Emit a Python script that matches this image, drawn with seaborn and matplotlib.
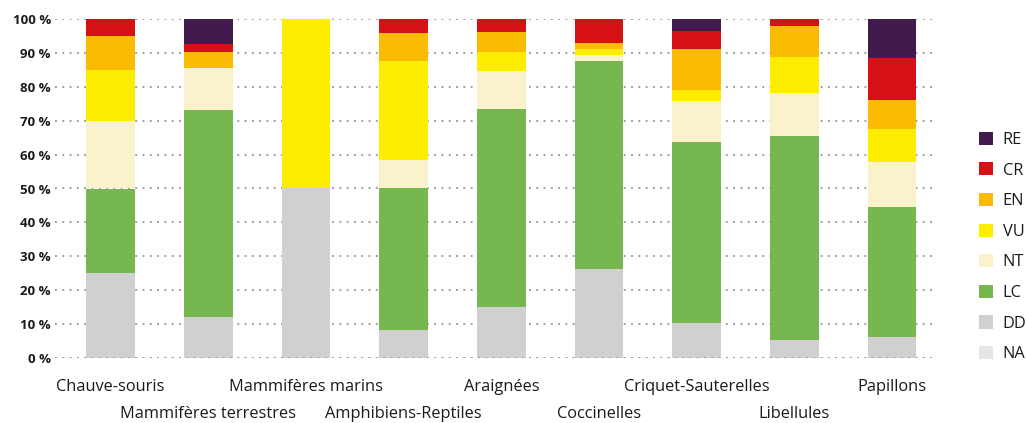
import pandas as pd
import seaborn as sns
import matplotlib.pyplot as plt
from matplotlib.patches import Patch

# groups, in chart order
groups = ["Chauve-souris", "Mammifères terrestres", "Mammifères marins",
          "Amphibiens-Reptiles", "Araignées", "Coccinelles",
          "Criquet-Sauterelles", "Libellules", "Papillons"]

# share of each IUCN status per group (%)
NA = [0, 0, 0, 0, 0, 0, 0, 0, 0]
DD = [25, 12.2, 50, 8.3, 15.1, 26.3, 10.4, 5.4, 6.3]
LC = [25, 61.0, 0, 41.7, 58.4, 61.4, 53.4, 60.1, 38.3]
NT = [20, 12.2, 0, 8.3, 11.2, 1.8, 12.0, 12.7, 13.3]
VU = [15, 0, 50, 29.2, 5.6, 1.7, 3.3, 10.6, 9.7]
EN = [10, 4.9, 0, 8.3, 5.9, 1.8, 12.1, 9.1, 8.5]
CR = [5, 2.4, 0, 4.2, 3.8, 7.0, 5.3, 2.1, 12.4]
RE = [0, 7.3, 0, 0, 0, 0, 3.5, 0, 11.5]

statuses = ["RE", "CR", "EN", "VU", "NT", "LC", "DD", "NA"]
colors = {"RE": "#421a4e", "CR": "#d51116", "EN": "#fbbb00", "VU": "#ffed00",
          "NT": "#faf2cc", "LC": "#76b74f", "DD": "#d0d0d0", "NA": "#e6e6e6"}

values = {"RE": RE, "CR": CR, "EN": EN, "VU": VU, "NT": NT, "LC": LC, "DD": DD, "NA": NA}
rows = []
for st in statuses:
    for g, v in zip(groups, values[st]):
        rows.append({"groupe": g, "statut": st, "pct": v})
df = pd.DataFrame(rows)

sns.set_style("white")
plt.rcParams['font.family'] = ['Open Sans', 'DejaVu Sans']
text_col = "#1a1a1a"
dots = (0, (1, 2.75))

fig = plt.figure(figsize=(10.26, 4.23), dpi=100)
ax = fig.add_axes([55 / 1026, 1 - 358 / 423, (937 - 55) / 1026, (358 - 19) / 423])

# first hue level ends up on top of the stack
sns.histplot(data=df, x="groupe", weights="pct", hue="statut", hue_order=statuses,
             palette=colors, multiple="stack", discrete=True, shrink=0.5,
             alpha=1, linewidth=0, legend=False, ax=ax)

ax.set_xlim(-0.57, 8.46)
ax.set_ylim(0, 100)
ax.set_yticks(range(0, 101, 10))
ax.set_yticklabels([f"{t} %" for t in range(0, 101, 10)], fontweight="bold",
                   fontsize=9.5, color=text_col)
ax.set_axisbelow(True)
ax.yaxis.grid(True, linestyle=dots, linewidth=1.4, color="#a0a0a0")
ax.axhline(0, linestyle=dots, linewidth=1.4, color="#a0a0a0", zorder=5)
ax.set_xlabel("")
ax.set_ylabel("")
sns.despine(ax=ax, left=True, bottom=True)
ax.tick_params(axis="both", length=0)
ax.tick_params(axis="y", pad=3)

ax.set_xticks(range(len(groups)))
ax.set_xticklabels(groups, fontsize=11.8, color=text_col)
for i, tick in enumerate(ax.xaxis.get_major_ticks()):
    tick.set_pad(34.5 if i % 2 else 15)

handles = [Patch(facecolor=colors[s], edgecolor="none", label=s) for s in statuses]
fig.legend(handles=handles, loc="center left", bbox_to_anchor=(979 / 1026, 1 - 247 / 423),
           frameon=False, fontsize=11.8, handlelength=0.85, handleheight=0.85,
           handletextpad=0.6, labelspacing=0.88, borderpad=0, borderaxespad=0,
           labelcolor=text_col)

fig.savefig("out.png", dpi=100)
